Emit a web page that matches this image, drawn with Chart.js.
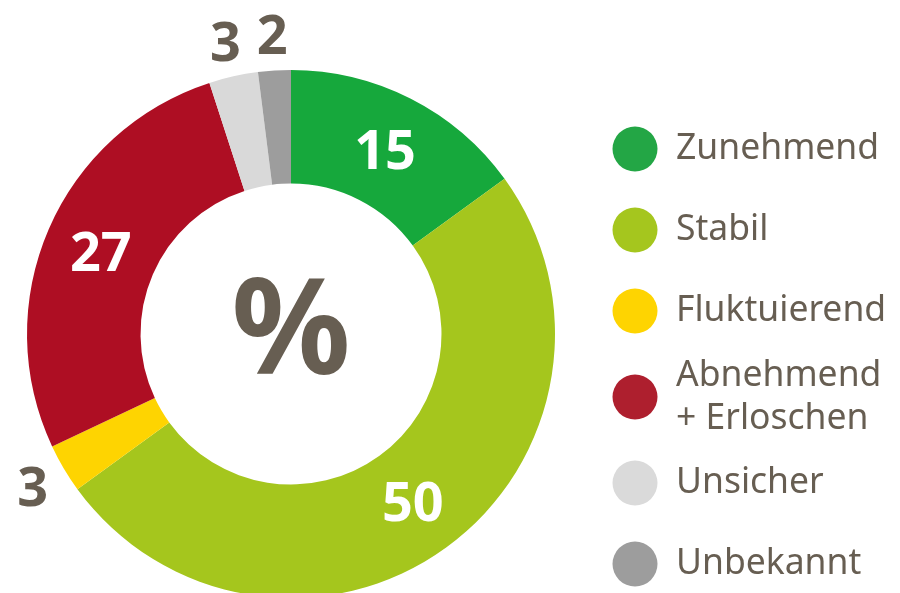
<!DOCTYPE html>
<html>
<head>
<meta charset="utf-8">
<script src="https://cdn.jsdelivr.net/npm/chart.js"></script>
<style>
    html, body { margin: 0; padding: 0; background: #fff; overflow: hidden; }
    #wrap { position: absolute; left: 0; top: 0; width: 900px; height: 620px; }
</style>
</head>
<body>
<div id="wrap"><canvas id="statusChart" width="900" height="620"></canvas></div>
<script>
// Chart data
const categories = ['Zunehmend', 'Stabil', 'Fluktuierend', 'Abnehmend\n+ Erloschen', 'Unsicher', 'Unbekannt'];
const shares = [15, 50, 3, 27, 3, 2];
const sliceColors = ['#16a83c', '#a5c61d', '#fed401', '#ae0e23', '#d9d9d9', '#9d9d9d'];
const legendColors = ['#23a645', '#a5c61e', '#fed401', '#ae1f2e', '#dadada', '#9d9d9d'];
const centerLabel = '%';

const textColor = '#675e52';

// Draws value labels, the centre symbol and the legend on the right
const decorPlugin = {
    id: 'decor',
    afterDatasetsDraw(chart) {
        const ctx = chart.ctx;
        const meta = chart.getDatasetMeta(0);
        ctx.save();
        ctx.textAlign = 'center';
        ctx.textBaseline = 'middle';

        // value labels
        meta.data.forEach(function(arc, i) {
            const p = arc.getProps(['x', 'y', 'startAngle', 'endAngle', 'innerRadius', 'outerRadius'], true);
            const mid = (p.startAngle + p.endAngle) / 2;
            const inside = shares[i] >= 10;
            const r = inside ? (p.innerRadius + p.outerRadius) / 2 : p.outerRadius + 36;
            ctx.fillStyle = inside ? '#ffffff' : textColor;
            ctx.font = 'bold 54px "Noto Sans"';
            ctx.fillText(String(shares[i]), p.x + Math.cos(mid) * r, p.y + Math.sin(mid) * r + 4);
        });

        // centre symbol
        const c = meta.data[0];
        ctx.fillStyle = textColor;
        ctx.font = 'bold 132px "Noto Sans"';
        ctx.fillText(centerLabel, c.x, c.y + 2);

        // legend
        ctx.textAlign = 'left';
        let y = 149;
        categories.forEach(function(label, i) {
            const lines = label.split('\n');
            const extra = (lines.length - 1) * 5;
            y += extra;
            ctx.fillStyle = legendColors[i];
            ctx.beginPath();
            ctx.arc(635, y, 22.5, 0, Math.PI * 2);
            ctx.fill();
            ctx.fillStyle = textColor;
            ctx.font = '35.5px "Noto Sans"';
            const lh = 43;
            lines.forEach(function(line, j) {
                ctx.fillText(line, 676, y - (lines.length - 1) * lh / 2 + j * lh);
            });
            y += 81 + extra;
        });
        ctx.restore();
    }
};

document.addEventListener('DOMContentLoaded', function() {
    const ctx = document.getElementById('statusChart').getContext('2d');
    new Chart(ctx, {
        type: 'doughnut',
        data: {
            labels: categories,
            datasets: [{
                data: shares,
                backgroundColor: sliceColors,
                borderWidth: 0
            }]
        },
        options: {
            responsive: false,
            animation: false,
            cutout: '57%',
            layout: {
                padding: { top: 70, bottom: 22, left: 27, right: 345 }
            },
            plugins: {
                legend: { display: false },
                tooltip: { enabled: false }
            }
        },
        plugins: [decorPlugin]
    });
});
</script>
</body>
</html>
